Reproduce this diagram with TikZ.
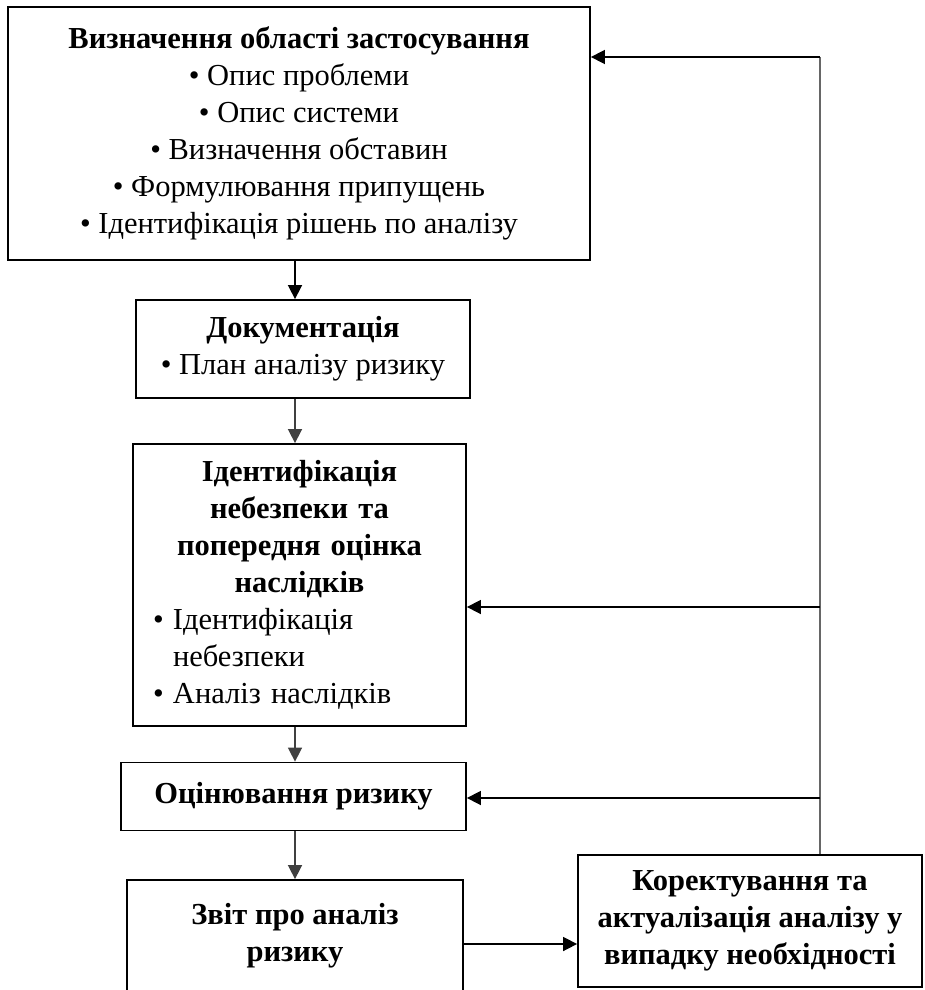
\documentclass[tikz,border=0pt]{standalone}
\usepackage{fontspec}
\setmainfont{Liberation Serif}
\usetikzlibrary{arrows.meta,calc}
\begin{document}
\begin{tikzpicture}[x=1pt,y=-1pt,
  box/.style={draw=black,line width=1.8pt,rectangle,inner sep=0pt,align=center,
    font=\fontsize{30.5}{37}\selectfont},
  arr/.style={line width=1.6pt,draw=black!75,-{Triangle[width=14pt,length=14pt]}},
  ln/.style={line width=1.6pt,draw=black!60}]
\useasboundingbox (0,0) rectangle (925,990);

\node[box,minimum width=582pt,minimum height=253pt] (b1) at (299,133.5)
  {\textbf{Визначення області застосування}\\
   • Опис проблеми\\
   • Опис системи\\
   • Визначення обставин\\
   • Формулювання припущень\\
   • Ідентифікація рішень по аналізу};

\node[box,minimum width=334pt,minimum height=98pt] (b2) at (303,349)
  {\textbf{Документація}\\ • План аналізу ризику};

\node[box,minimum width=333pt,minimum height=282pt,text width=293pt,align=left] (b3) at (299.5,585)
  {\makebox[293pt]{\textbf{Ідентифікація}}\\
   \makebox[293pt]{\textbf{небезпеки та}}\\
   \makebox[293pt]{\textbf{попередня оцінка}}\\
   \makebox[293pt]{\textbf{наслідків}}\\
   \makebox[20pt][l]{•}Ідентифікація\\
   \hspace*{20pt}небезпеки\\
   \makebox[20pt][l]{•}Аналіз наслідків};

\node[box,minimum width=345pt,minimum height=68pt] (b4) at (293.5,796.5)
  {\textbf{Оцінювання ризику}};

\node[box,minimum width=336pt,minimum height=112pt] (b5) at (295,936)
  {\textbf{Звіт про аналіз}\\ \textbf{ризику}};

\node[box,minimum width=344pt,minimum height=132pt] (b6) at (750,921)
  {\textbf{Коректування та}\\ \textbf{актуалізація аналізу у}\\ \textbf{випадку необхідності}};

\coordinate (ax) at (295,0);
\coordinate (v1) at (820,57);
\coordinate (v2) at (820,607);
\coordinate (v3) at (820,798);
\coordinate (h5) at (0,944);

\draw[arr,draw=black] (b1.south -| ax) -- (b2.north -| ax);
\draw[arr] (b2.south -| ax) -- (b3.north -| ax);
\draw[arr] (b3.south -| ax) -- (b4.north -| ax);
\draw[arr] (b4.south -| ax) -- (b5.north -| ax);
\draw[arr,draw=black] (b5.east |- h5) -- (b6.west |- h5);
\draw[ln] (b6.north -| v1) -- (v1);
\draw[arr,draw=black] (v1) -- (v1 -| b1.east);
\draw[arr,draw=black] (v2) -- (v2 -| b3.east);
\draw[arr,draw=black] (v3) -- (v3 -| b4.east);
\end{tikzpicture}
\end{document}
